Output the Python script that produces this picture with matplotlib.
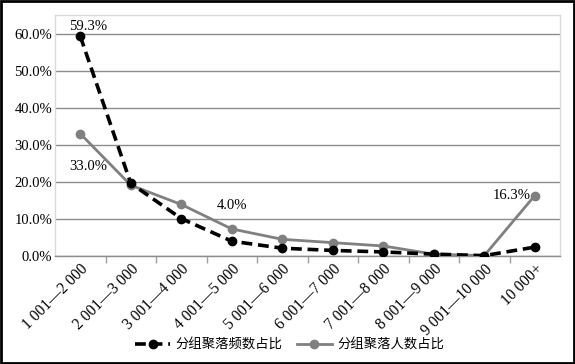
import matplotlib
matplotlib.use("Agg")
import matplotlib.pyplot as plt
from matplotlib.ticker import FuncFormatter, FixedLocator
import numpy as np

categories = ["1 001—2 000", "2 001—3 000", "3 001—4 000", "4 001—5 000", "5 001—6 000",
              "6 001—7 000", "7 001—8 000", "8 001—9 000", "9 001—10 000", "10 000+"]
freq_share = [59.3, 19.6, 10.1, 4.0, 2.1, 1.5, 1.1, 0.5, 0.1, 2.4]
people_share = [33.0, 19.1, 13.9, 7.3, 4.5, 3.6, 2.7, 0.5, 0.1, 16.3]
series_names = ["分组聚落频数占比", "分组聚落人数占比"]

serif = ["Liberation Serif", "DejaVu Serif"]
cjk = ["Noto Sans CJK SC", "DejaVu Sans"]

fig = plt.figure(figsize=(5.75, 3.64), dpi=100)
ax = fig.add_axes([55/575, 1-256/364, (560-55)/575, (256-15)/364])

x = np.arange(len(categories))
ax.plot(x, np.array(freq_share)/100, color="black", lw=2.6, ls=(0, (3, 1.6)),
        marker="o", ms=6, label=series_names[0], zorder=4)
ax.plot(x, np.array(people_share)/100, color="#808080", lw=2.0, ls="-",
        marker="o", ms=6, label=series_names[1], zorder=3)

ax.set_xlim(-0.5, len(categories)-0.5)
ax.set_ylim(0, 0.65)
ax.set_yticks(np.arange(0, 0.61, 0.1))
ax.yaxis.set_major_formatter(FuncFormatter(lambda v, p: f"{v*100:.1f}%"))
ax.grid(axis="y", color="#8c8c8c", lw=1.0)
ax.set_axisbelow(True)
ax.tick_params(axis="y", length=0, pad=2)
for lab in ax.get_yticklabels():
    lab.set_fontfamily(serif)
    lab.set_fontsize(10.5)

ax.set_xticks(x)
ax.set_xticklabels(categories, rotation=45, ha="right", rotation_mode="anchor",
                   fontsize=11.2, family=serif)
ax.tick_params(axis="x", length=0, pad=4)
ax.xaxis.set_minor_locator(FixedLocator(np.arange(0.5, len(categories)-0.5, 1)))
ax.tick_params(axis="x", which="minor", length=5, color="#a0a0a0", width=1)

for s in ["top", "right", "left"]:
    ax.spines[s].set_color("#d9d9d9")
    ax.spines[s].set_linewidth(1)
ax.spines["bottom"].set_color("#8c8c8c")
ax.spines["bottom"].set_linewidth(1)

ax.text(0.15, 0.593 + 0.008, "59.3%", fontsize=10.5, family=serif, ha="center", va="bottom")
ax.text(0.15, 0.225, "33.0%", fontsize=10.5, family=serif, ha="center", va="bottom")
ax.text(3.0, 0.12, "4.0%", fontsize=10.5, family=serif, ha="center", va="bottom")
ax.text(8.55, 0.163, "16.3%", fontsize=10.5, family=serif, ha="center", va="center")

leg = fig.legend(loc="center", bbox_to_anchor=(0.504, 1-345/364), ncol=2, frameon=False,
                 prop={"family": cjk, "size": 9.6}, handlelength=2.6, columnspacing=1.1,
                 handletextpad=0.4)

fig.patches.append(plt.Rectangle((0.002, 0.003), 0.996, 0.994, transform=fig.transFigure,
                                 fill=False, edgecolor="black", lw=2))

fig.savefig("out.png", dpi=100)
